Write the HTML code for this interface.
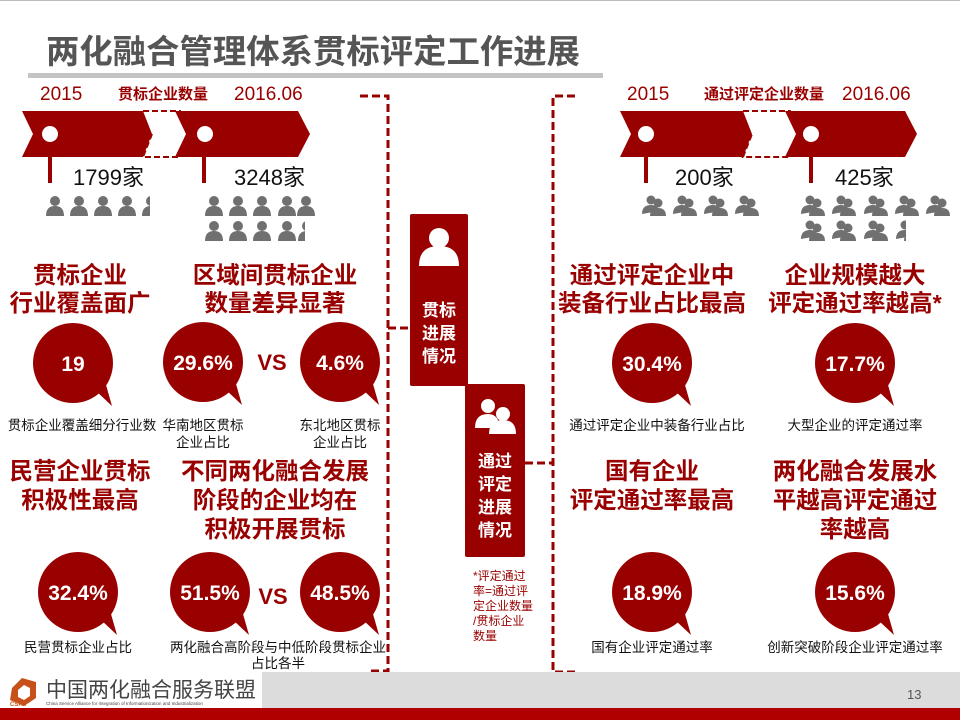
<!DOCTYPE html>
<html><head><meta charset="utf-8"><style>
html,body{margin:0;padding:0;background:#fff;}
svg{display:block;}
text{font-family:"Liberation Sans","Noto Sans CJK SC",sans-serif;}
</style></head><body>
<svg width="960" height="720" viewBox="0 0 960 720" xmlns="http://www.w3.org/2000/svg">
<defs>
<g id="p1" fill="#707070"><circle cx="0" cy="-5" r="5"/><path d="M-9,10 Q-9,0 0,0 Q9,0 9,10 Z"/></g>
<g id="p2" fill="#707070"><circle cx="-3" cy="-5" r="4.5"/><path d="M-12,9 Q-12,0 -3,0 Q4,0 5,6 Z"/><circle cx="4" cy="-2" r="4.5"/><path d="M-4,11 Q-4,3 4,3 Q12,3 12,11 Z"/></g>
</defs>
<rect x="0" y="0" width="960" height="1" fill="#bbb"/>
<text x="46" y="63" font-size="33" font-weight="bold" fill="#555" textLength="534" lengthAdjust="spacingAndGlyphs">两化融合管理体系贯标评定工作进展</text>
<rect x="28" y="73" width="575" height="5" fill="#c4c4c4"/>

<!-- left timeline -->
<g fill="#990000">
<text x="40" y="100" font-size="19">2015</text>
<text x="118" y="99" font-size="15" font-weight="bold">贯标企业数量</text>
<text x="234" y="100" font-size="19">2016.06</text>
<path d="M22,111 L143,111 L152,134 L143,157 L22,157 L33,134 Z"/>
<path d="M175,111 L298,111 L310,134 L298,157 L175,157 L186,134 Z"/>
<rect x="48" y="157" width="4" height="26"/>
<rect x="202" y="157" width="4" height="26"/>
</g>
<path d="M143,111 L180,111 L191,134 L180,157 L143,157 L152,134" fill="none" stroke="#990000" stroke-width="2" stroke-dasharray="6,3"/>
<circle cx="50" cy="134" r="8" fill="#fff"/><circle cx="205" cy="134" r="8" fill="#fff"/>
<text x="73" y="185" font-size="22" fill="#111">1799家</text>
<text x="234" y="185" font-size="22" fill="#111">3248家</text>
<g>
<use href="#p1" x="55" y="206"/><use href="#p1" x="79" y="206"/><use href="#p1" x="103" y="206"/><use href="#p1" x="127" y="206"/>
<svg x="141" y="190" width="9" height="30"><use href="#p1" x="10" y="16"/></svg>
<use href="#p1" x="214" y="206"/><use href="#p1" x="238" y="206"/><use href="#p1" x="262" y="206"/><use href="#p1" x="287" y="206"/><use href="#p1" x="306" y="206"/>
<use href="#p1" x="214" y="231"/><use href="#p1" x="238" y="231"/><use href="#p1" x="262" y="231"/><use href="#p1" x="287" y="231"/>
<svg x="298" y="215" width="7" height="30"><use href="#p1" x="9" y="16"/></svg>
</g>

<!-- right timeline -->
<g fill="#990000">
<text x="627" y="100" font-size="19">2015</text>
<text x="704" y="99" font-size="15" font-weight="bold">通过评定企业数量</text>
<text x="842" y="100" font-size="19">2016.06</text>
<path d="M620,111 L743,111 L752,134 L743,157 L620,157 L631,134 Z"/>
<path d="M785,111 L905,111 L917,134 L905,157 L785,157 L796,134 Z"/>
<rect x="644" y="157" width="4" height="26"/>
<rect x="809" y="157" width="4" height="26"/>
</g>
<path d="M743,111 L790,111 L800,134 L790,157 L743,157 L752,134" fill="none" stroke="#990000" stroke-width="2" stroke-dasharray="6,3"/>
<circle cx="646" cy="134" r="8" fill="#fff"/><circle cx="811" cy="134" r="8" fill="#fff"/>
<text x="675" y="185" font-size="22" fill="#111">200家</text>
<text x="835" y="185" font-size="22" fill="#111">425家</text>
<g>
<use href="#p2" x="654" y="205"/><use href="#p2" x="685" y="205"/><use href="#p2" x="716" y="205"/><use href="#p2" x="747" y="205"/>
<use href="#p2" x="813" y="205"/><use href="#p2" x="844" y="205"/><use href="#p2" x="876" y="205"/><use href="#p2" x="907" y="205"/><use href="#p2" x="938" y="205"/>
<use href="#p2" x="813" y="230"/><use href="#p2" x="844" y="230"/><use href="#p2" x="876" y="230"/>
<svg x="896" y="215" width="10" height="30"><use href="#p2" x="12" y="15"/></svg>
</g>

<!-- dashed connectors -->
<g fill="none" stroke="#990000" stroke-width="3" stroke-dasharray="8,4">
<path d="M360,96 L388,96 L388,671 L367,671"/>
<path d="M388,328 L410,328"/>
<path d="M575,96 L553,96 L553,672 L575,672"/>
<path d="M525,463 L553,463"/>
</g>

<!-- center boxes -->
<rect x="410" y="214" width="58" height="172" rx="2" fill="#990000"/>
<circle cx="439" cy="238" r="10" fill="#fff"/><path d="M419,266 Q419,246 439,246 Q459,246 459,266 Z" fill="#fff"/>
<g fill="#fff" font-size="17" font-weight="bold" text-anchor="middle">
<text x="439" y="316">贯标</text><text x="439" y="339">进展</text><text x="439" y="362">情况</text>
</g>
<rect x="465" y="384" width="60" height="173" rx="2" fill="#990000"/>
<circle cx="488" cy="406" r="7" fill="#fff"/><path d="M475,428 Q475,414 488,414 Q495,414 498,420 L494,428 Z" fill="#fff"/>
<circle cx="503" cy="414" r="7" fill="#fff"/><path d="M489,434 Q489,420 503,420 Q516,420 516,434 Z" fill="#fff"/>
<g fill="#fff" font-size="17" font-weight="bold" text-anchor="middle">
<text x="495" y="467">通过</text><text x="495" y="490">评定</text><text x="495" y="513">进展</text><text x="495" y="536">情况</text>
</g>
<g fill="#990000" font-size="12">
<text x="473" y="580">*评定通过</text><text x="473" y="595">率=通过评</text><text x="473" y="610">定企业数量</text><text x="473" y="625">/贯标企业</text><text x="473" y="640">数量</text>
</g>

<!-- headings -->
<g fill="#990000" font-size="23.5" font-weight="bold" text-anchor="middle">
<text x="80" y="283">贯标企业</text><text x="80" y="311">行业覆盖面广</text>
<text x="275" y="283">区域间贯标企业</text><text x="275" y="311">数量差异显著</text>
<text x="652" y="283">通过评定企业中</text><text x="652" y="311">装备行业占比最高</text>
<text x="855" y="283">企业规模越大</text><text x="855" y="311">评定通过率越高*</text>
<text x="80" y="479">民营企业贯标</text><text x="80" y="508">积极性最高</text>
<text x="275" y="479">不同两化融合发展</text><text x="275" y="508">阶段的企业均在</text><text x="275" y="537">积极开展贯标</text>
<text x="652" y="479">国有企业</text><text x="652" y="508">评定通过率最高</text>
<text x="855" y="479">两化融合发展水</text><text x="855" y="508">平越高评定通过</text><text x="855" y="537">率越高</text>
</g>

<!-- bubbles -->
<g fill="#990000">
<circle cx="73" cy="363" r="40"/><path d="M95,390 L112,406 L104,378 Z"/>
<circle cx="203" cy="362" r="40"/><path d="M225,389 L242,405 L234,377 Z"/>
<circle cx="340" cy="362" r="40"/><path d="M362,389 L379,405 L371,377 Z"/>
<circle cx="652" cy="363" r="40"/><path d="M674,390 L691,406 L683,378 Z"/>
<circle cx="855" cy="363" r="40"/><path d="M877,390 L894,406 L886,378 Z"/>
<circle cx="78" cy="592" r="40"/><path d="M100,619 L117,635 L109,607 Z"/>
<circle cx="210" cy="592" r="40"/><path d="M232,619 L249,635 L241,607 Z"/>
<circle cx="340" cy="592" r="40"/><path d="M362,619 L379,635 L371,607 Z"/>
<circle cx="652" cy="592" r="40"/><path d="M674,619 L691,635 L683,607 Z"/>
<circle cx="855" cy="592" r="40"/><path d="M877,619 L894,635 L886,607 Z"/>
</g>
<g fill="#fff" font-size="21" font-weight="bold" text-anchor="middle">
<text x="73" y="371">19</text>
<text x="203" y="370">29.6%</text>
<text x="340" y="370">4.6%</text>
<text x="652" y="371">30.4%</text>
<text x="855" y="371">17.7%</text>
<text x="78" y="600">32.4%</text>
<text x="210" y="600">51.5%</text>
<text x="340" y="600">48.5%</text>
<text x="652" y="600">18.9%</text>
<text x="855" y="600">15.6%</text>
</g>
<g fill="#990000" font-size="22" font-weight="bold" text-anchor="middle">
<text x="272" y="370">VS</text><text x="273" y="604">VS</text>
</g>

<!-- captions -->
<g fill="#111" font-size="13.5" text-anchor="middle">
<text x="82" y="430">贯标企业覆盖细分行业数</text>
<text x="203" y="430">华南地区贯标</text><text x="203" y="447">企业占比</text>
<text x="340" y="430">东北地区贯标</text><text x="340" y="447">企业占比</text>
<text x="657" y="430">通过评定企业中装备行业占比</text>
<text x="855" y="430">大型企业的评定通过率</text>
<text x="78" y="652">民营贯标企业占比</text>
<text x="278" y="652">两化融合高阶段与中低阶段贯标企业</text><text x="278" y="668">占比各半</text>
<text x="652" y="652">国有企业评定通过率</text>
<text x="855" y="652">创新突破阶段企业评定通过率</text>
</g>

<!-- footer -->
<rect x="0" y="672" width="960" height="36" fill="#dcdcdc"/>
<rect x="0" y="672" width="262" height="36" fill="#fff"/>
<rect x="0" y="708" width="960" height="12" fill="#b00000"/>
<path d="M12,688 L22,678 L36,682 L36,698 L24,706 L10,700 Z" fill="#c8501a"/>
<path d="M18,690 L24,685 L30,688 L30,696 L24,700 L18,697 Z" fill="#fff"/>
<text x="10" y="706" font-size="6" fill="#c8501a" font-weight="bold">CSAII</text>
<text x="46" y="697" font-size="21" fill="#444">中国两化融合服务联盟</text>
<text x="46" y="705" font-size="4.5" fill="#444">China Service Alliance for Integration of Informationization and Industrialization</text>
<text x="907" y="699" font-size="13" fill="#555">13</text>
</svg>
</body></html>
